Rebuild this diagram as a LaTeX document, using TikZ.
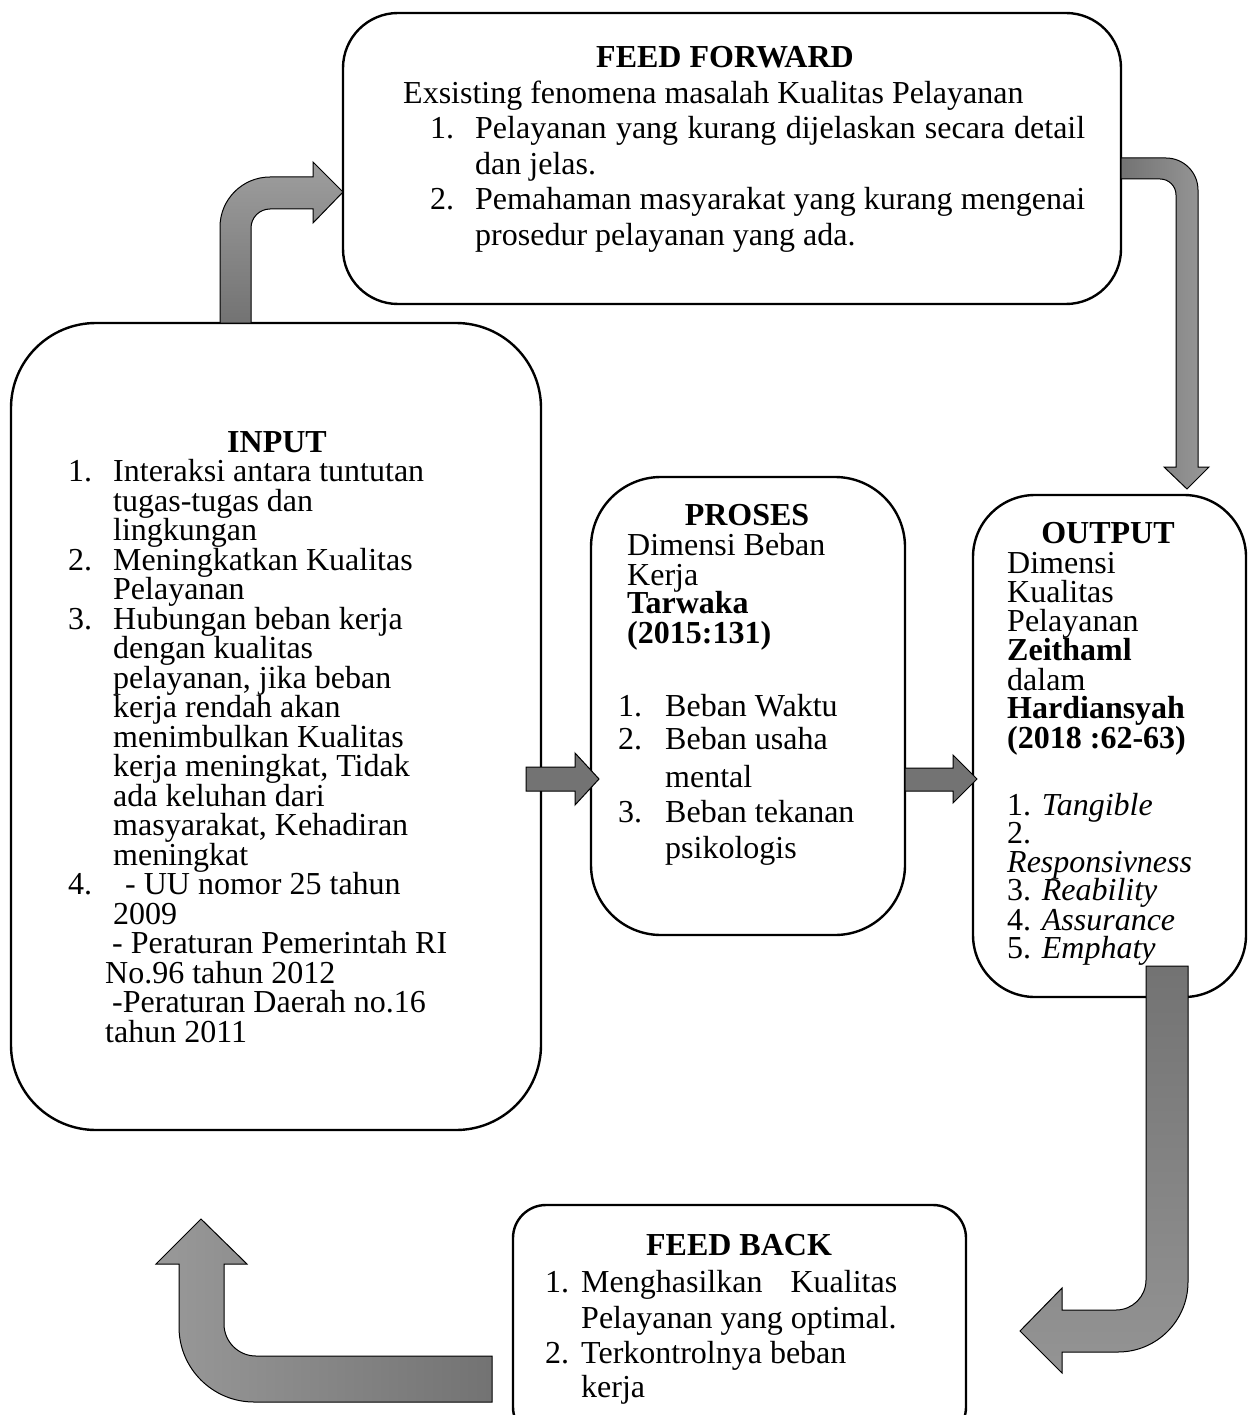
\documentclass[tikz,border=0pt]{standalone}
\usepackage{fontspec}
\setmainfont{Liberation Serif}
\newcommand{\putline}[4]{\node[txt] (#1) at (#2,-#3) {#4};}
\newcommand{\puttitle}[4]{\node[ttl] (#1) at (#2,-#3) {#4};}
\begin{document}
\begin{tikzpicture}[x=1pt,y=1pt,
  box/.style={draw=black, line width=2.4pt, fill=white, rectangle, inner sep=0pt},
  txt/.style={font=\fontsize{32}{36}\selectfont, inner sep=0pt, anchor=base west, text height=20pt, text depth=5pt},
  ttl/.style={font=\fontsize{32}{36}\selectfont\bfseries, inner sep=0pt, anchor=base, text height=20pt, text depth=5pt},
  arr/.style={draw=black, line width=1pt, line join=miter}
]
\useasboundingbox (0,0) rectangle (1253,-1415);
\clip (0,0) rectangle (1253,-1415);
\fill[white] (0,0) rectangle (1253,-1415);

% boxes
\node[box, minimum width=778pt, minimum height=291pt, rounded corners=55pt] (ff) at (732,-158.5) {};
\node[box, minimum width=530pt, minimum height=807pt, rounded corners=85pt] (inp) at (276,-726.5) {};
\node[box, minimum width=314pt, minimum height=458pt, rounded corners=70pt] (pro) at (748,-706) {};
\node[box, minimum width=273pt, minimum height=502pt, rounded corners=62pt] (out) at (1109.5,-746) {};
\node[box, minimum width=453pt, minimum height=235pt, rounded corners=33pt] (fb) at (739.5,-1322.5) {};

% FEED FORWARD text
\puttitle{ffT}{725}{68}{FEED FORWARD}
\putline{ff1}{403}{104}{Exsisting fenomena masalah Kualitas Pelayanan}
\putline{ff2n}{430}{139}{1.}
\putline{ff2}{475}{139}{\makebox[610pt][s]{Pelayanan yang kurang dijelaskan secara detail}}
\putline{ff3}{475}{174.5}{dan jelas.}
\putline{ff4n}{430}{210}{2.}
\putline{ff4}{475}{210}{\makebox[610pt][s]{Pemahaman masyarakat yang kurang mengenai}}
\putline{ff5}{475}{245.5}{prosedur pelayanan yang ada.}

% INPUT text
\puttitle{inT}{277}{452}{INPUT}
\putline{in1n}{68}{481.5}{1.}
\putline{in1}{113}{481.5}{Interaksi antara tuntutan}
\putline{in2}{113}{511}{tugas-tugas dan}
\putline{in3}{113}{540.5}{lingkungan}
\putline{in4n}{68}{570}{2.}
\putline{in4}{113}{570}{Meningkatkan Kualitas}
\putline{in5}{113}{599.5}{Pelayanan}
\putline{in6n}{68}{629}{3.}
\putline{in6}{113}{629}{Hubungan beban kerja}
\putline{in7}{113}{658.5}{dengan kualitas}
\putline{in8}{113}{688}{pelayanan, jika beban}
\putline{in9}{113}{717.5}{kerja rendah akan}
\putline{in10}{113}{747}{menimbulkan Kualitas}
\putline{in11}{113}{776.5}{kerja meningkat, Tidak}
\putline{in12}{113}{806}{ada keluhan dari}
\putline{in13}{113}{835.5}{masyarakat, Kehadiran}
\putline{in14}{113}{865}{meningkat}
\putline{in15n}{68}{894.5}{4.}
\putline{in15}{125}{894.5}{- UU nomor 25 tahun}
\putline{in16}{113}{924}{2009}
\putline{in17}{112}{953.5}{- Peraturan Pemerintah RI}
\putline{in18}{105}{983}{No.96 tahun 2012}
\putline{in19}{112}{1012.5}{-Peraturan Daerah no.16}
\putline{in20}{105}{1042}{tahun 2011}

% PROSES text
\puttitle{prT}{747}{525}{PROSES}
\putline{pr1}{627}{555}{Dimensi Beban}
\putline{pr2}{627}{585}{Kerja}
\putline{pr3}{627}{613}{\bfseries Tarwaka}
\putline{pr4}{627}{643}{\bfseries (2015:131)}
\putline{pr5n}{618}{716}{1.}
\putline{pr5}{665}{716}{Beban Waktu}
\putline{pr6n}{618}{749}{2.}
\putline{pr6}{665}{749}{Beban usaha}
\putline{pr7}{665}{787}{mental}
\putline{pr8n}{618}{822}{3.}
\putline{pr8}{665}{822}{Beban tekanan}
\putline{pr9}{665}{858}{psikologis}

% OUTPUT text
\puttitle{ouT}{1108}{543}{OUTPUT}
\putline{ou1}{1007}{573}{Dimensi}
\putline{ou2}{1007}{602}{Kualitas}
\putline{ou3}{1007}{631}{Pelayanan}
\putline{ou4}{1007}{660}{\bfseries Zeithaml}
\putline{ou5}{1007}{690}{dalam}
\putline{ou6}{1007}{718}{\bfseries Hardiansyah}
\putline{ou7}{1007}{748}{\bfseries (2018 :62-63)}
\putline{ou8}{1007}{815}{1. \textit{Tangible}}
\putline{ou9}{1007}{843}{2.}
\putline{ou10}{1007}{872}{\textit{Responsivness}}
\putline{ou11}{1007}{900}{3. \textit{Reability}}
\putline{ou12}{1007}{930}{4. \textit{Assurance}}
\putline{ou13}{1007}{958}{5. \textit{Emphaty}}

% FEED BACK text
\puttitle{fbT}{739}{1255}{FEED BACK}
\putline{fb1n}{545}{1292}{1.}
\putline{fb1}{581}{1292}{\makebox[316pt][s]{Menghasilkan Kualitas}}
\putline{fb2}{581}{1328}{Pelayanan yang optimal.}
\putline{fb3n}{545}{1363}{2.}
\putline{fb3}{581}{1363}{Terkontrolnya beban}
\putline{fb4}{581}{1397}{kerja}

% block arrows
% input -> feed forward
\draw[arr, top color=black!38, bottom color=black!55]
  (220,-323) -- (220,-227) arc[start angle=180, end angle=90, radius=50]
  -- (313,-177) -- (313,-162) -- (343,-192) -- (313,-223) -- (313,-209)
  -- (270,-209) arc[start angle=90, end angle=180, radius=19]
  -- (251,-323) -- cycle;
% feed forward -> output
\draw[arr, left color=black!55, right color=black!40]
  (1121,-158) -- (1166,-158) arc[start angle=90, end angle=0, radius=32]
  -- (1198,-467) -- (1209,-467) -- (1187,-489) -- (1164,-467) -- (1176,-467)
  -- (1176,-195) arc[start angle=0, end angle=90, radius=16]
  -- (1121,-179) -- cycle;
% output -> feed back
\draw[arr, top color=black!55, bottom color=black!42]
  (1146,-966) -- (1188,-966) -- (1188,-1282) arc[start angle=0, end angle=-90, radius=70]
  -- (1062,-1352) -- (1062,-1373) -- (1020,-1331) -- (1062,-1288) -- (1062,-1310)
  -- (1116,-1310) arc[start angle=-90, end angle=0, radius=30]
  -- cycle;
% feed back -> input
\draw[arr, left color=black!40, right color=black!55]
  (492,-1356) -- (256,-1356) arc[start angle=270, end angle=180, radius=32]
  -- (224,-1264) -- (247,-1264) -- (201,-1219) -- (156,-1264) -- (179,-1264)
  -- (179,-1327) arc[start angle=180, end angle=270, radius=75]
  -- (492,-1402) -- cycle;
% input -> proses
\draw[arr, top color=black!55, middle color=black!38, bottom color=black!55]
  (526,-767) -- (575,-767) -- (575,-753) -- (599,-779) -- (575,-805) -- (575,-791) -- (526,-791) -- cycle;
% proses -> output
\draw[arr, top color=black!55, middle color=black!38, bottom color=black!55]
  (905,-768) -- (953,-768) -- (953,-755) -- (977,-779) -- (953,-803) -- (953,-791) -- (905,-791) -- cycle;
\end{tikzpicture}
\end{document}
